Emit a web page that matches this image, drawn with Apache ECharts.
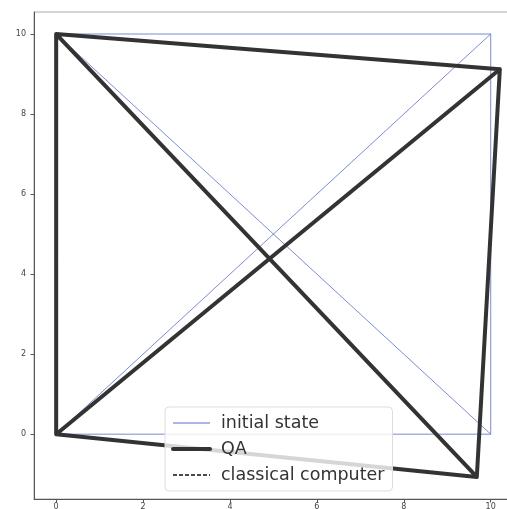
<!DOCTYPE html>
<html>
<head>
<meta charset="utf-8">
<script src="https://cdn.jsdelivr.net/npm/echarts@6/dist/echarts.min.js"></script>
<style>
  html, body { margin: 0; padding: 0; background: #fff; }
  #chart { width: 507px; height: 509px; }
</style>
</head>
<body>
<div id="chart"></div>
<script>
// Node positions of the four cities
const initialX = [0, 10, 10, 0];
const initialY = [10, 10, 0, 0];
const qaX = [0, 10.21, 9.68, 0];
const qaY = [10, 9.12, -1.07, 0];
const classicalX = [0, 10.21, 9.68, 0];
const classicalY = [10, 9.12, -1.07, 0];

const xTicks = [0, 2, 4, 6, 8, 10];
const yTicks = [0, 2, 4, 6, 8, 10];

// Every pair of nodes is joined; gaps (null) separate the edges
function edges(xs, ys) {
  const out = [];
  for (let i = 0; i < xs.length; i++) {
    for (let j = i + 1; j < xs.length; j++) {
      out.push([xs[i], ys[i]], [xs[j], ys[j]], null);
    }
  }
  return out;
}

const font = 'DejaVu Sans';
const chart = echarts.init(document.getElementById('chart'), null, { renderer: 'canvas' });

chart.setOption({
  animation: false,
  backgroundColor: '#fff',
  grid: {
    left: 34, top: 12, width: 488, bottom: 10,
    outerBoundsMode: 'none', containLabel: false,
    show: true, borderColor: '#aaa', borderWidth: 1, backgroundColor: 'transparent'
  },
  xAxis: {
    type: 'value', min: -0.51, max: 10.72,
    splitLine: { show: false },
    axisLine: { show: true, onZero: false, lineStyle: { color: '#555', width: 1 } },
    axisTick: { show: true, length: 3.5, lineStyle: { color: '#555' }, customValues: xTicks },
    axisLabel: { customValues: xTicks, fontFamily: font, fontSize: 8, color: '#444', margin: 4 }
  },
  yAxis: {
    type: 'value', min: -1.62, max: 10.55,
    splitLine: { show: false },
    axisLine: { show: true, onZero: false, lineStyle: { color: '#555', width: 1 } },
    axisTick: { show: true, length: 3.5, lineStyle: { color: '#555' }, customValues: yTicks },
    axisLabel: { customValues: yTicks, fontFamily: font, fontSize: 8, color: '#444', margin: 8 }
  },
  legend: {
    orient: 'vertical',
    left: 165, top: 407,
    width: 227,
    padding: [7, 8, 7, 6],
    itemWidth: 37, itemHeight: 14, itemGap: 8,
    itemStyle: { opacity: 0 },
    backgroundColor: 'rgba(255,255,255,0.8)',
    borderColor: '#ddd', borderWidth: 1, borderRadius: 4,
    textStyle: { fontFamily: font, fontSize: 17.5, color: '#333', padding: [0, 0, 0, 6] },
    data: [
      { name: 'initial state', lineStyle: { width: 1, color: '#5b6fc2', type: 'solid' } },
      { name: 'QA', lineStyle: { width: 4, color: '#333', type: 'solid' } },
      { name: 'classical computer', lineStyle: { width: 1.5, color: '#111', type: [4, 2] } }
    ]
  },
  series: [
    {
      name: 'classical computer', type: 'line', symbol: 'none', connectNulls: false,
      data: edges(classicalX, classicalY),
      lineStyle: { color: '#111', width: 1.5, type: [4, 2] },
      itemStyle: { color: '#111' }, z: 1
    },
    {
      name: 'initial state', type: 'line', symbol: 'none', connectNulls: false,
      data: edges(initialX, initialY),
      lineStyle: { color: '#5b6fc2', width: 0.8 },
      itemStyle: { color: '#5b6fc2' }, z: 2
    },
    {
      name: 'QA', type: 'line', symbol: 'none', connectNulls: false,
      data: edges(qaX, qaY),
      lineStyle: { color: '#333', width: 4, cap: 'round', join: 'round' },
      itemStyle: { color: '#333' }, z: 3
    }
  ]
});
</script>
</body>
</html>
